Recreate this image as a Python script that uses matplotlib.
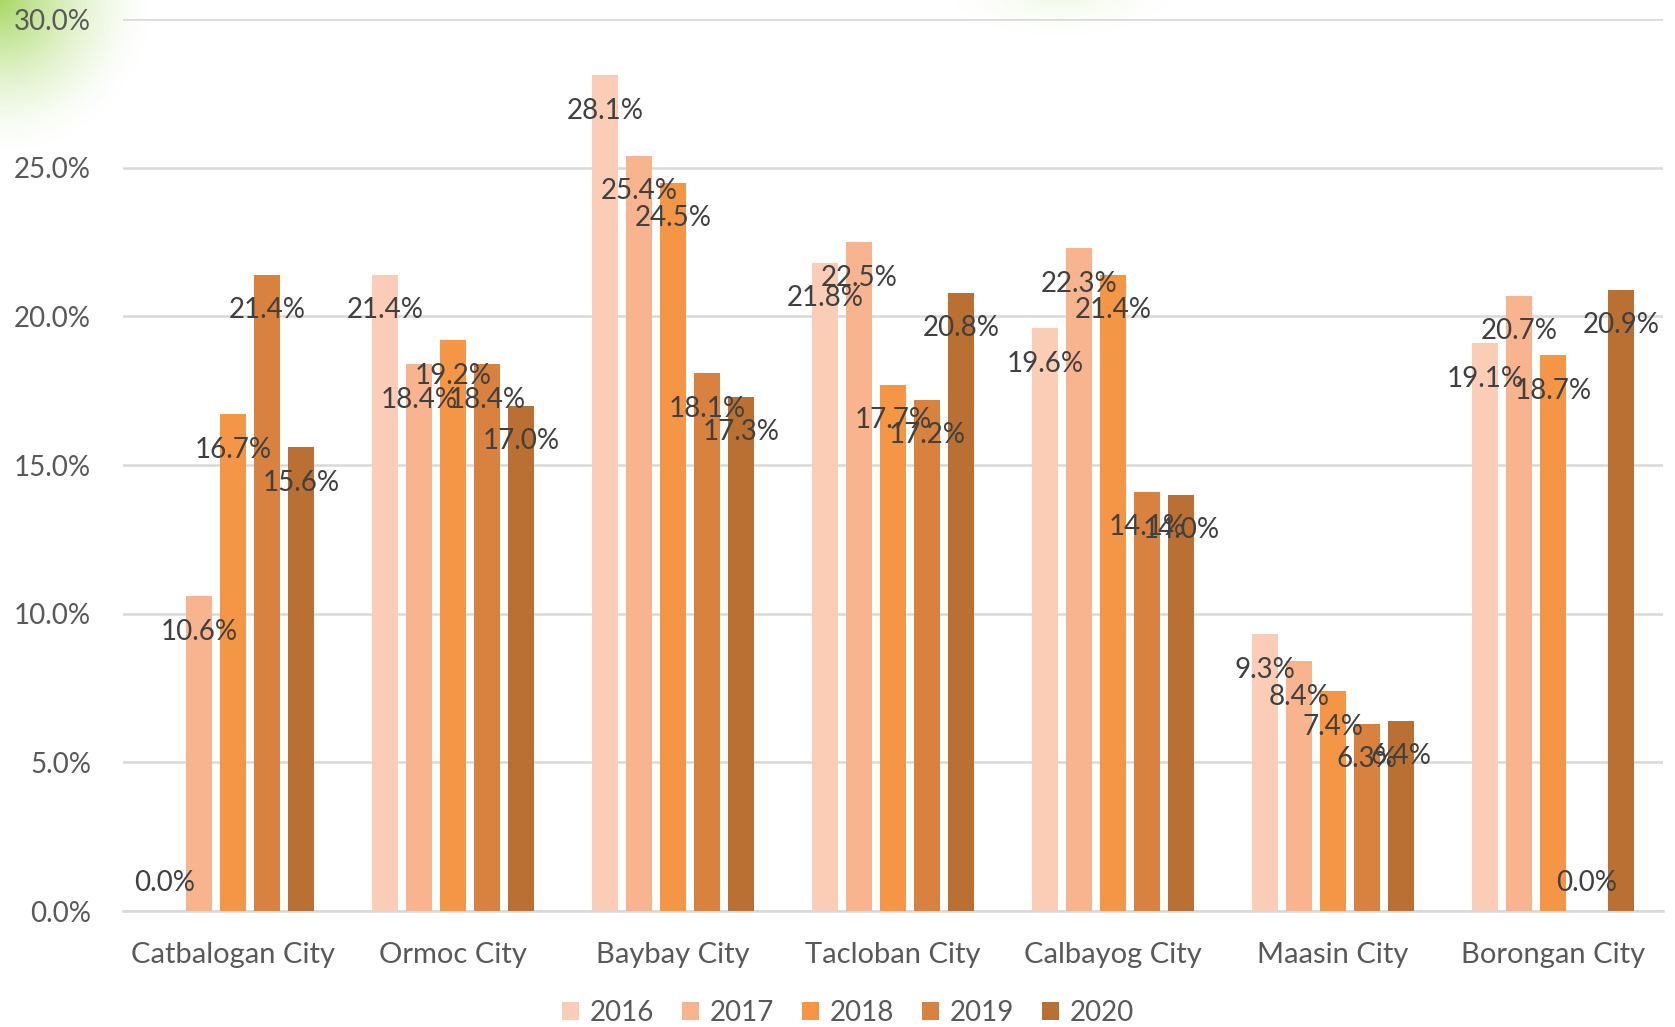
import matplotlib
matplotlib.use("Agg")
import matplotlib.pyplot as plt
import numpy as np

plt.rcParams['font.family'] = ['Lato', 'DejaVu Sans']

cities = ["Catbalogan City", "Ormoc City", "Baybay City", "Tacloban City",
          "Calbayog City", "Maasin City", "Borongan City"]
years = ["2016", "2017", "2018", "2019", "2020"]

v2016 = [0.0, 21.4, 28.1, 21.8, 19.6, 9.3, 19.1]
v2017 = [10.6, 18.4, 25.4, 22.5, 22.3, 8.4, 20.7]
v2018 = [16.7, 19.2, 24.5, 17.7, 21.4, 7.4, 18.7]
v2019 = [21.4, 18.4, 18.1, 17.2, 14.1, 6.3, 0.0]
v2020 = [15.6, 17.0, 17.3, 20.8, 14.0, 6.4, 20.9]
series = [v2016, v2017, v2018, v2019, v2020]

colors = ["#FBCDB7", "#F8B48F", "#F59646", "#D9813F", "#BA7033"]

W, H = 1675, 1027
fig = plt.figure(figsize=(W / 100, H / 100), dpi=100)

# faint green glow in the background (top-left corner and top centre)
bg = fig.add_axes([0, 0, 1, 1], zorder=-10)
yy, xx = np.mgrid[0:H, 0:W]
d1 = np.hypot(xx / 1.0, yy / 1.0)
a1 = np.clip(1 - d1 / 150, 0, 1) ** 1.5 * 0.9
d2 = np.hypot((xx - 1060) / 110.0, (yy + 10) / 45.0)
a2 = np.clip(1 - d2, 0, 1) ** 1.5 * 0.18
alpha = np.clip(a1 + a2, 0, 1)
green = np.array([0.62, 0.83, 0.33])
img = np.ones((H, W, 3)) * (1 - alpha[..., None]) + green * alpha[..., None]
bg.imshow(img, aspect="auto", extent=[0, W, H, 0])
bg.axis("off")

ax = fig.add_axes([123 / W, 116 / H, 1540 / W, 892 / H])
ax.patch.set_alpha(0)

x = np.arange(len(cities))
pitch = 0.1545
width = 0.118
for i, (vals, col, yr) in enumerate(zip(series, colors, years)):
    pos = x + (i - 2) * pitch
    ax.bar(pos, vals, width=width, color=col, label=yr, zorder=3)
    for px, v in zip(pos, vals):
        ly = max(v - 1.2, 0.95)
        ax.text(px, ly, f"{v:.1f}%", ha="center", va="center",
                fontsize=20, color="#404040", zorder=5)

ax.set_xlim(-0.5, len(cities) - 0.5)
ax.set_ylim(0, 30)
ax.set_yticks(np.arange(0, 30.1, 5))
ax.set_yticklabels([f"{t:.1f}%" for t in np.arange(0, 30.1, 5)])
ax.set_xticks(x)
ax.set_xticklabels(cities)
ax.tick_params(axis="y", length=0, labelsize=20, labelcolor="#595959", pad=23)
ax.tick_params(axis="x", length=0, labelsize=21, labelcolor="#595959", pad=22)
ax.grid(axis="y", color="#D9D9D9", linewidth=1.8, zorder=0)
for s in ["top", "right", "left"]:
    ax.spines[s].set_visible(False)
ax.spines["bottom"].set_color("#D9D9D9")
ax.spines["bottom"].set_linewidth(1.8)

ax.legend(loc="center", bbox_to_anchor=(0.471, -0.114), ncol=5,
          frameon=False, fontsize=20, labelcolor="#595959",
          handlelength=0.6, handleheight=0.6, handletextpad=0.4,
          columnspacing=1.0, borderpad=0)

fig.savefig("out.png", dpi=100)
